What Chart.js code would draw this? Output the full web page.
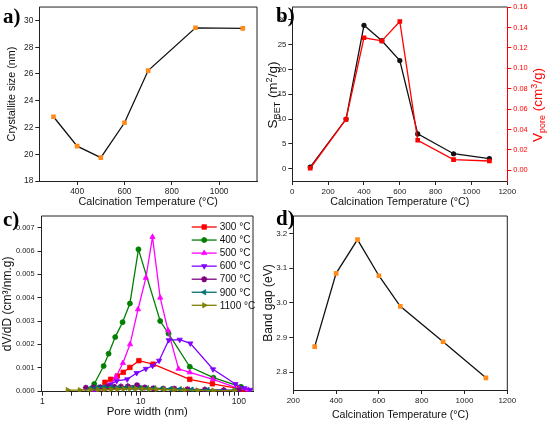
<!DOCTYPE html>
<html>
<head>
<meta charset="utf-8">
<script src="https://cdn.jsdelivr.net/npm/chart.js@4.4.0/dist/chart.umd.min.js"></script>
<style>
  body { margin: 0; background: #fff; }
  #wrap { position: relative; width: 550px; height: 425px; overflow: hidden; }
  canvas { position: absolute; left: 0; top: 0; }
  .lbl { position: absolute; font: bold 21px 'Liberation Serif', serif; line-height: 1; color: #000; }
</style>
</head>
<body>
<div id="wrap">
  <canvas id="chartA" width="550" height="425"></canvas>
  <canvas id="chartB" width="550" height="425"></canvas>
  <canvas id="chartC" width="550" height="425"></canvas>
  <canvas id="chartD" width="550" height="425"></canvas>
  <div class="lbl" style="left:3px;top:6px">a)</div>
  <div class="lbl" style="left:276px;top:5px">b)</div>
  <div class="lbl" style="left:3px;top:209px">c)</div>
  <div class="lbl" style="left:276px;top:208px">d)</div>
</div>
<script>
// ---- data ----
// a) crystallite size
const tempA = [300, 400, 500, 600, 700, 900, 1100];
const sizeA = [22.8, 20.6, 19.75, 22.35, 26.25, 29.45, 29.4];

// b) surface area and pore volume
const tempB = [100, 300, 400, 500, 600, 700, 900, 1100];
const sbetB = [0.3, 10.0, 28.9, 25.8, 21.8, 7.0, 3.0, 2.0];
const vporeB = [0.002, 0.050, 0.130, 0.127, 0.146, 0.0295, 0.0104, 0.0091];

// c) pore size distribution (pore width nm, dV/dD)
const w300 = [4.33, 4.95, 5.78, 6.65, 7.77, 9.59, 13.4, 31.6, 53.7, 100, 110];
const v300 = [0.00037, 0.0005, 0.00064, 0.0008, 0.00101, 0.0013, 0.00115, 0.0005, 0.00031, 0.0001, 0.00005];
const w400 = [3.37, 4.2, 4.72, 5.51, 6.55, 7.77, 9.5, 15.8, 19.2, 31.6, 55, 105];
const v400 = [0.0003, 0.00107, 0.0016, 0.00231, 0.00295, 0.00375, 0.00607, 0.003, 0.00246, 0.00104, 0.00057, 0.00018];
const w500 = [3.4, 4.3, 4.9, 5.6, 6.6, 7.8, 9.4, 11.3, 13.2, 15.8, 19, 24.3, 31.6, 54.5, 100, 125];
const v500 = [0.00003, 0.00008, 0.00025, 0.0006, 0.0012, 0.002, 0.0035, 0.00485, 0.0066, 0.004, 0.0026, 0.00095, 0.0008, 0.0005, 0.0001, 0.00005];
const w600 = [3.4, 4.3, 4.9, 5.7, 7.3, 9.1, 11.3, 13.2, 15.4, 19.3, 25, 32, 54.5, 92, 114, 130];
const v600 = [0.00005, 0.00015, 0.00028, 0.00043, 0.0005, 0.00077, 0.00095, 0.00108, 0.0013, 0.00218, 0.0022, 0.00204, 0.00093, 0.0003, 0.00012, 0.00005];
const w700 = [2.77, 3.3, 3.9, 4.6, 5.4, 6.3, 7.4, 9.2, 11, 13.5, 17, 22, 30, 45, 70, 100];
const v700 = [0.00014, 0.00015, 0.00016, 0.00017, 0.00018, 0.00019, 0.0002, 0.00025, 0.00015, 0.00012, 0.0001, 0.0001, 0.00008, 0.00006, 0.00004, 0.00003];
const w900 = [3.05, 3.6, 4.2, 5, 5.9, 7, 8.3, 9.8, 11.6, 13.8, 16.5, 20, 25, 33, 48, 90];
const v900 = [0.00012, 0.00015, 0.00017, 0.00016, 0.00015, 0.00014, 0.00014, 0.00013, 0.00012, 0.00011, 0.0001, 0.00009, 0.00008, 0.00006, 0.00005, 0.00003];
const w1100 = [1.81, 2.4, 3.1, 3.7, 4.3, 5, 5.8, 6.7, 7.8, 9, 10.5, 12.3, 14.5, 17.5, 22, 28, 38, 55, 90];
const v1100 = [0.00004, 0.00004, 0.00005, 0.00005, 0.00006, 0.00007, 0.00008, 0.00009, 0.0001, 0.0001, 0.00009, 0.00008, 0.00007, 0.00006, 0.00005, 0.00004, 0.00003, 0.00002, 0.00002];
const logTicks = [1, 2, 3, 4, 5, 6, 7, 8, 9, 10, 20, 30, 40, 50, 60, 70, 80, 90, 100];

// d) band gap
const tempD = [300, 400, 500, 600, 700, 900, 1100];
const gapD = [2.874, 3.085, 3.182, 3.078, 2.99, 2.888, 2.784];

// ---- setup ----
const FONT = "'Liberation Sans', Arial, sans-serif";
Chart.defaults.font.family = FONT;
Chart.defaults.color = '#222';
const ORANGE = '#ff8c1a';

const zip = (xs, ys) => xs.map((x, i) => ({ x: x, y: ys[i] }));
const plain = v => String(v);

// axis helper: fixed box size so plot areas line up like the original figure
function axis(o) {
  const col = o.color || '#222';
  const a = {
    type: o.type || 'linear',
    position: o.position,
    min: o.min,
    max: o.max,
    afterFit: s => { if (s.isHorizontal()) s.height = o.size; else s.width = o.size; },
    border: { display: true, color: col, width: 1 },
    grid: { drawOnChartArea: false, drawTicks: true, tickLength: 4, color: col },
    ticks: { font: { size: o.tickSize || 8 }, color: col, padding: o.pad === undefined ? 2 : o.pad,
      maxRotation: 0, autoSkip: false, includeBounds: false },
    title: { display: !!o.title, text: o.title, font: { size: o.titleSize || 10.8 }, color: '#111',
      padding: { top: o.titlePad === undefined ? 2 : o.titlePad, bottom: 1 } }
  };
  if (o.stepSize) a.ticks.stepSize = o.stepSize;
  if (o.fmt) a.ticks.callback = o.fmt;
  if (o.afterBuildTicks) a.afterBuildTicks = o.afterBuildTicks;
  if (o.vertical) a.axis = 'y';
  return a;
}

// top/right box lines (Origin style frame)
const framePlugin = {
  id: 'frame',
  afterDatasetsDraw(chart, args, opts) {
    const { ctx, chartArea: a } = chart;
    ctx.save();
    ctx.lineWidth = 1;
    ctx.strokeStyle = '#222';
    ctx.beginPath();
    ctx.moveTo(a.left, a.top);
    ctx.lineTo(a.right, a.top);
    if (!opts.noRight) ctx.lineTo(a.right, a.bottom);
    ctx.stroke();
    ctx.restore();
  }
};

// text with sub/superscripts, rotated
function drawRich(ctx, x, y, parts, color) {
  ctx.save();
  ctx.translate(x, y);
  ctx.rotate(-Math.PI / 2);
  ctx.fillStyle = color;
  ctx.textAlign = 'left';
  ctx.textBaseline = 'alphabetic';
  let total = 0;
  const widths = parts.map(p => {
    ctx.font = p[1] + 'px ' + FONT;
    const w = ctx.measureText(p[0]).width;
    total += w;
    return w;
  });
  let cx = -total / 2;
  parts.forEach((p, i) => {
    ctx.font = p[1] + 'px ' + FONT;
    ctx.fillText(p[0], cx, 4.8 + p[2]);
    cx += widths[i];
  });
  ctx.restore();
}

const richTitles = {
  id: 'richTitles',
  afterDraw(chart, args, opts) {
    const a = chart.chartArea;
    (opts.items || []).forEach(it => {
      const x = (it.side === 'left' ? a.left : a.right) + it.dx;
      drawRich(chart.ctx, x, (a.top + a.bottom) / 2 + it.dy, it.parts, it.color);
    });
  }
};

// legend with line segment + marker, drawn inside the plot
const lineLegend = {
  id: 'lineLegend',
  afterDraw(chart, args, opts) {
    const { ctx, chartArea: a } = chart;
    chart.data.datasets.forEach((ds, i) => {
      const y = a.top + opts.top + i * opts.rowH;
      const x0 = a.right - opts.fromRight;
      ctx.save();
      ctx.strokeStyle = ds.borderColor;
      ctx.lineWidth = ds.borderWidth;
      ctx.beginPath();
      ctx.moveTo(x0, y);
      ctx.lineTo(x0 + opts.lineLen, y);
      ctx.stroke();
      ctx.fillStyle = ds.backgroundColor;
      ctx.lineWidth = ds.pointBorderWidth;
      Chart.helpers.drawPoint(ctx, { pointStyle: ds.pointStyle, rotation: ds.pointRotation || 0,
        radius: ds.pointRadius, borderWidth: ds.pointBorderWidth }, x0 + opts.lineLen / 2, y);
      ctx.fillStyle = '#111';
      ctx.font = opts.fontSize + 'px ' + FONT;
      ctx.textBaseline = 'middle';
      ctx.textAlign = 'left';
      ctx.fillText(ds.label, x0 + opts.lineLen + 3, y + 0.5);
      ctx.restore();
    });
  }
};

const baseOpts = (padding) => ({
  responsive: false,
  animation: false,
  layout: { padding: padding, autoPadding: false },
  plugins: { legend: { display: false }, tooltip: { enabled: false } }
});

// ---- a) ----
const optsA = baseOpts({ left: 4, top: 7, right: 293, bottom: 215 });
optsA.scales = {
  x: axis({ min: 240, max: 1160, stepSize: 200, size: 29, fmt: plain, tickSize: 8.4,
    title: 'Calcination Temperature (°C)' }),
  y: axis({ min: 18, max: 31, stepSize: 2, size: 35.3, tickSize: 8.4, title: 'Crystallite size (nm)' })
};
new Chart(document.getElementById('chartA'), {
  type: 'line',
  data: { datasets: [{
    data: zip(tempA, sizeA),
    borderColor: '#111', borderWidth: 1.3,
    pointStyle: 'rect', pointRadius: 3.3, pointBorderWidth: 0,
    pointBackgroundColor: ORANGE, pointBorderColor: ORANGE
  }] },
  options: optsA,
  plugins: [framePlugin]
});

// ---- b) ----
const optsB = baseOpts({ left: 262, top: 7, right: 10, bottom: 215 });
optsB.scales = {
  x: axis({ min: 0, max: 1200, stepSize: 200, size: 29, fmt: plain, tickSize: 8,
    title: 'Calcination Temperature (°C)' }),
  y: axis({ position: 'left', min: -2.5, max: 32.6, stepSize: 5, size: 30.3, tickSize: 7.8 }),
  y1: axis({ position: 'right', min: -0.0105, max: 0.1602, stepSize: 0.02, size: 32.7, tickSize: 7.4,
    color: '#ff0000', vertical: true, fmt: v => v.toFixed(2) })
};
optsB.plugins.frame = { noRight: true };
optsB.plugins.richTitles = { items: [
  { side: 'left', dx: -20, dy: 1, color: '#111',
    parts: [['S', 13.5, 0], ['BET', 9, 3], [' (m', 13.5, 0], ['2', 9, -5.5], ['/g)', 13.5, 0]] },
  { side: 'right', dx: 30, dy: 11, color: '#ff0000',
    parts: [['V', 13.5, 0], ['pore', 9, 3], [' (cm', 13.5, 0], ['3', 9, -5.5], ['/g)', 13.5, 0]] }
] };
new Chart(document.getElementById('chartB'), {
  type: 'line',
  data: { datasets: [
    { data: zip(tempB, vporeB), yAxisID: 'y1', order: 0,
      borderColor: '#ff0000', borderWidth: 1.3,
      pointStyle: 'rect', pointRadius: 3.3, pointBorderWidth: 0,
      pointBackgroundColor: '#ff0000', pointBorderColor: '#ff0000' },
    { data: zip(tempB, sbetB), yAxisID: 'y', order: 1,
      borderColor: '#111', borderWidth: 1.3,
      pointStyle: 'circle', pointRadius: 2.6, pointBorderWidth: 0,
      pointBackgroundColor: '#111', pointBorderColor: '#111' }
  ] },
  options: optsB,
  plugins: [framePlugin, richTitles]
});

// ---- c) ----
const seriesC = [
  { label: '300 °C', w: w300, v: v300, color: '#ff0000', style: 'rect', rot: 0, r: 3.2 },
  { label: '400 °C', w: w400, v: v400, color: '#008000', style: 'circle', rot: 0, r: 2.5 },
  { label: '500 °C', w: w500, v: v500, color: '#ff00ff', style: 'triangle', rot: 0, r: 3 },
  { label: '600 °C', w: w600, v: v600, color: '#8000ff', style: 'triangle', rot: 180, r: 3 },
  { label: '700 °C', w: w700, v: v700, color: '#800080', style: 'star', rot: 0, r: 3 },
  { label: '900 °C', w: w900, v: v900, color: '#007070', style: 'triangle', rot: -90, r: 3 },
  { label: '1100 °C', w: w1100, v: v1100, color: '#808000', style: 'triangle', rot: 90, r: 3 }
];
const optsC = baseOpts({ left: 0.8, top: 216, right: 297, bottom: 5.1 });
optsC.scales = {
  x: axis({ type: 'logarithmic', min: 0.98, max: 139, size: 28.2, pad: 1, tickSize: 8.5,
    titleSize: 11.5, title: 'Pore width (nm)',
    afterBuildTicks: s => { s.ticks = logTicks.map(v => ({ value: v, major: v === 1 || v === 10 || v === 100 })); },
    fmt: v => (v === 1 || v === 10 || v === 100) ? String(v) : '' }),
  y: axis({ min: -0.00003, max: 0.0075, stepSize: 0.001, size: 40.7, pad: 3, tickSize: 7.4,
    titleSize: 12, titlePad: 0, title: 'dV/dD (cm³/nm.g)', fmt: v => v.toFixed(3) })
};
optsC.plugins.lineLegend = { top: 11, rowH: 13.05, fromRight: 61.3, lineLen: 25, fontSize: 10 };
new Chart(document.getElementById('chartC'), {
  type: 'line',
  data: { datasets: seriesC.map((s, i) => ({
    label: s.label,
    data: zip(s.w, s.v),
    order: -i,
    borderColor: s.color, backgroundColor: s.color, borderWidth: 1.3,
    pointStyle: s.style, pointRotation: s.rot, pointRadius: s.r,
    pointBorderWidth: s.style === 'star' ? 1.6 : 0.8,
    pointBackgroundColor: s.color, pointBorderColor: s.color
  })) },
  options: optsC,
  plugins: [framePlugin, lineLegend]
});

// ---- d) ----
const optsD = baseOpts({ left: 259.5, top: 216, right: 42.7, bottom: 2.7 });
optsD.scales = {
  x: axis({ min: 200, max: 1200, stepSize: 200, size: 32.3, pad: 1.5, tickSize: 8, fmt: plain,
    titleSize: 10.6, title: 'Calcination Temperature (°C)' }),
  y: axis({ min: 2.749, max: 3.25, stepSize: 0.1, size: 33.8, tickSize: 8,
    titleSize: 12, title: 'Band gap (eV)', fmt: v => v.toFixed(1) })
};
new Chart(document.getElementById('chartD'), {
  type: 'line',
  data: { datasets: [{
    data: zip(tempD, gapD),
    borderColor: '#111', borderWidth: 1.3,
    pointStyle: 'rect', pointRadius: 3.3, pointBorderWidth: 0,
    pointBackgroundColor: ORANGE, pointBorderColor: ORANGE
  }] },
  options: optsD,
  plugins: [framePlugin]
});
</script>
</body>
</html>
